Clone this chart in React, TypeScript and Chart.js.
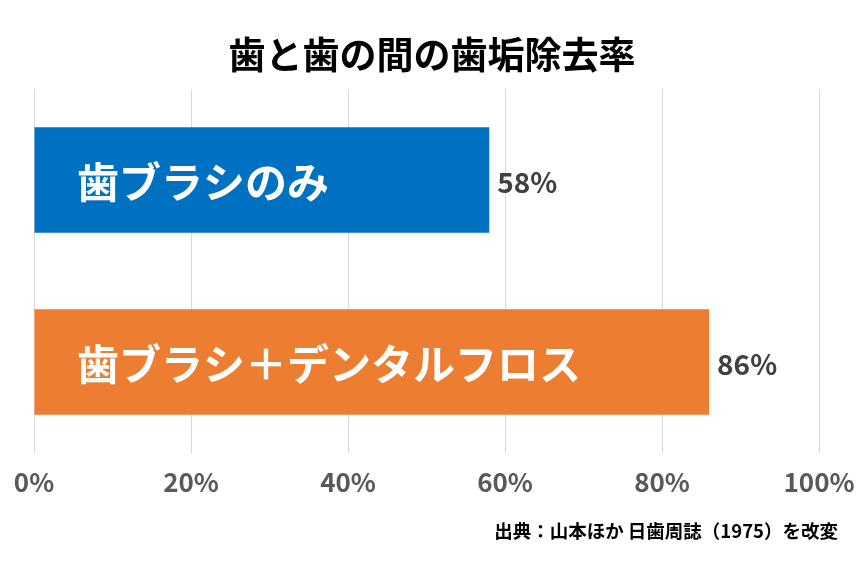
import React, { useEffect, useRef } from "react";
import { Chart, registerables } from "chart.js";

Chart.register(...registerables);

const titleText = "歯と歯の間の歯垢除去率";
const sourceText = "出典：山本ほか 日歯周誌（1975）を改変";
const categories = ["歯ブラシのみ", "歯ブラシ＋デンタルフロス"];
const values = [58, 86];
const barColors = ["#0070C0", "#ED7D31"];
const tickValues = [0, 20, 40, 60, 80, 100];

const FONT = "'Noto Sans CJK JP', 'Noto Sans', sans-serif";

const overlayPlugin = {
  id: "overlay",
  afterDatasetsDraw(chart: any) {
    const ctx = chart.ctx;
    const meta = chart.getDatasetMeta(0);
    ctx.save();
    meta.data.forEach((bar: any, i: number) => {
      ctx.font = `bold 42px ${FONT}`;
      ctx.fillStyle = "#FFFFFF";
      ctx.textAlign = "left";
      ctx.textBaseline = "middle";
      ctx.fillText(categories[i], 77, bar.y + 2);
      ctx.font = `bold 28px ${FONT}`;
      ctx.fillStyle = "#404040";
      ctx.fillText(values[i] + "%", bar.x + 8, bar.y + 2);
    });
    ctx.font = `bold 37px ${FONT}`;
    ctx.fillStyle = "#000000";
    ctx.textAlign = "center";
    ctx.textBaseline = "middle";
    ctx.fillText(titleText, 432, 55);
    ctx.font = `bold 18.5px ${FONT}`;
    ctx.textAlign = "right";
    ctx.fillText(sourceText, 838, 531);
    ctx.restore();
  },
};

export default function App() {
  const ref = useRef<HTMLCanvasElement>(null);
  useEffect(() => {
    if (!ref.current) return;
    const chart = new Chart(ref.current, {
      type: "bar",
      data: {
        labels: categories,
        datasets: [
          {
            data: values,
            backgroundColor: barColors,
            borderWidth: 0,
            barPercentage: 1,
            categoryPercentage: 0.58,
          },
        ],
      },
      options: {
        indexAxis: "y",
        animation: false,
        responsive: true,
        maintainAspectRatio: false,
        layout: { padding: { top: 89, left: 34, right: 40, bottom: 0 } },
        plugins: {
          legend: { display: false },
          tooltip: { enabled: false },
          title: { display: false },
        },
        scales: {
          x: {
            min: 0,
            max: 100,
            afterBuildTicks: (axis: any) => {
              axis.ticks = tickValues.map((v) => ({ value: v }));
            },
            afterFit: (axis: any) => {
              axis.height = 112;
              axis.paddingLeft = 0;
              axis.paddingRight = 0;
            },
            grid: { color: "#D9D9D9", lineWidth: 1, drawTicks: false },
            border: { display: false },
            ticks: {
              padding: 14,
              color: "#595959",
              font: { family: FONT, size: 26, weight: "bold" },
              callback: (v: any) => v + "%",
              maxRotation: 0,
            },
          },
          y: {
            display: false,
          },
        },
      },
      plugins: [overlayPlugin],
    });
    return () => chart.destroy();
  }, []);
  return (
    <div style={{ position: "fixed", left: 0, top: 0, width: 859, height: 565, background: "#fff" }}>
      <canvas ref={ref} />
    </div>
  );
}
